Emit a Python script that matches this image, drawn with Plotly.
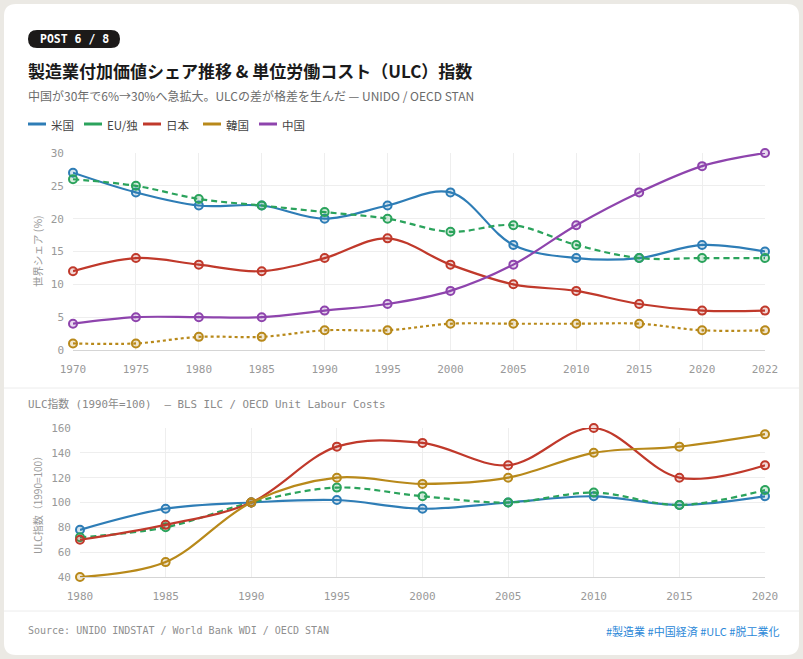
import plotly.graph_objects as go

W, H = 803, 659

# ---------------- data ----------------
years_top = ["1970", "1975", "1980", "1985", "1990", "1995", "2000", "2005", "2010", "2015", "2020", "2022"]
share_us = [27, 24, 22, 22, 20, 22, 24, 16, 14, 14, 16, 15]
share_eu = [26, 25, 23, 22, 21, 20, 18, 19, 16, 14, 14, 14]
share_jp = [12, 14, 13, 12, 14, 17, 13, 10, 9, 7, 6, 6]
share_kr = [1, 1, 2, 2, 3, 3, 4, 4, 4, 4, 3, 3]
share_cn = [4, 5, 5, 5, 6, 7, 9, 13, 19, 24, 28, 30]

years_bot = ["1980", "1985", "1990", "1995", "2000", "2005", "2010", "2015", "2020"]
ulc_us = [78, 95, 100, 102, 95, 100, 105, 98, 105]
ulc_eu = [72, 80, 100, 112, 105, 100, 108, 98, 110]
ulc_jp = [70, 82, 100, 145, 148, 130, 160, 120, 130]
ulc_kr = [40, 52, 100, 120, 115, 120, 140, 145, 155]

names = ["米国", "EU/独", "日本", "韓国", "中国"]
colors = ["#2e7db6", "#2ba35c", "#c0392b", "#b8891a", "#8e44ad"]
dash_top = ["solid", "6px,4px", "solid", "3px,3px", "solid"]
dash_bot = ["solid", "6px,4px", "solid", "solid"]

top_series = [share_us, share_eu, share_jp, share_kr, share_cn]
bot_series = [ulc_us, ulc_eu, ulc_jp, ulc_kr]

# ---------------- helpers ----------------
def px(x):
    return x / W

def py(y):
    return 1 - y / H

def rgba(hexc, a):
    h = hexc.lstrip("#")
    r, g, b = int(h[0:2], 16), int(h[2:4], 16), int(h[4:6], 16)
    return f"rgba({r},{g},{b},{a})"

def rounded_rect(x0, y0, x1, y1, r):
    rx, ry = r / W, r / H
    X0, X1 = px(x0), px(x1)
    Y0, Y1 = py(y0), py(y1)  # Y0 top (higher), Y1 bottom
    return (f"M {X0+rx},{Y0} L {X1-rx},{Y0} Q {X1},{Y0} {X1},{Y0-ry} "
            f"L {X1},{Y1+ry} Q {X1},{Y1} {X1-rx},{Y1} L {X0+rx},{Y1} "
            f"Q {X0},{Y1} {X0},{Y1+ry} L {X0},{Y0-ry} Q {X0},{Y0} {X0+rx},{Y0} Z")

MONO = "DejaVu Sans Mono, Noto Sans CJK JP, monospace"
CJK = "Noto Sans CJK JP, Noto Sans, sans-serif"

fig = go.Figure()

for name, col, dsh, ys in zip(names, colors, dash_top, top_series):
    fig.add_trace(go.Scatter(
        x=years_top, y=ys, name=name, mode="lines+markers",
        line=dict(color=col, width=2.2, shape="spline", smoothing=1.0, dash=dsh),
        marker=dict(size=8, color=rgba(col, 0.2), line=dict(color=col, width=2)),
        cliponaxis=False, xaxis="x", yaxis="y", showlegend=False,
    ))

for name, col, dsh, ys in zip(names[:4], colors[:4], dash_bot, bot_series):
    fig.add_trace(go.Scatter(
        x=years_bot, y=ys, name=name, mode="lines+markers",
        line=dict(color=col, width=2.2, shape="spline", smoothing=1.0, dash=dsh),
        marker=dict(size=8, color=rgba(col, 0.2), line=dict(color=col, width=2)),
        cliponaxis=False, xaxis="x2", yaxis="y2", showlegend=False,
    ))

axis_common = dict(
    showgrid=True, gridcolor="#eeeeee", gridwidth=1,
    zeroline=False, ticks="", fixedrange=True, automargin=False,
    tickfont=dict(family=MONO, size=11, color="#999999"),
)

fig.update_layout(
    width=W, height=H,
    margin=dict(l=0, r=0, t=0, b=0, pad=0, autoexpand=False),
    paper_bgcolor="#ebe9e4",
    plot_bgcolor="rgba(0,0,0,0)",
    showlegend=False,
    xaxis=dict(domain=[px(73), px(765)], type="category", range=[0, len(years_top) - 1],
               showline=True, linecolor="#d5d5d5", ticklabelstandoff=9, anchor="y", **axis_common),
    yaxis=dict(domain=[py(350), py(153)], range=[0, 30], dtick=5,
               showline=False, ticklabelstandoff=8, anchor="x", **axis_common),
    xaxis2=dict(domain=[px(80), px(765)], type="category", range=[0, len(years_bot) - 1],
                showline=True, linecolor="#d5d5d5", ticklabelstandoff=9, anchor="y2", **axis_common),
    yaxis2=dict(domain=[py(577), py(428)], range=[40, 160], dtick=20,
                showline=False, ticklabelstandoff=8, anchor="x2", **axis_common),
)

shapes = []
# card
shapes.append(dict(type="path", path=rounded_rect(4, 4, 799, 655, 12), xref="paper", yref="paper",
                   fillcolor="#ffffff", line=dict(width=0), layer="below"))
# badge
shapes.append(dict(type="path", path=rounded_rect(28, 30, 120, 48, 9), xref="paper", yref="paper",
                   fillcolor="#1c1a19", line=dict(width=0), layer="below"))
# dividers
shapes.append(dict(type="line", xref="paper", yref="paper", x0=px(4), x1=px(799), y0=py(388), y1=py(388),
                   line=dict(color="#ececec", width=1), layer="below"))
shapes.append(dict(type="line", xref="paper", yref="paper", x0=px(4), x1=px(799), y0=py(611), y1=py(611),
                   line=dict(color="#ececec", width=1), layer="below"))

annotations = []
def text(x, y, s, size, color, family, xanchor="left", weight=None, angle=0):
    f = dict(size=size, color=color, family=family)
    if weight:
        f["weight"] = weight
    annotations.append(dict(x=px(x), y=py(y), xref="paper", yref="paper", text=s, showarrow=False,
                            xanchor=xanchor, yanchor="middle", font=f, textangle=angle,
                            borderpad=0))

text(74, 39, "POST 6 / 8", 11.5, "#ffffff", "DejaVu Sans Mono, monospace", xanchor="center", weight=700)
text(27, 70, "製造業付加価値シェア推移 &amp; 単位労働コスト（ULC）指数", 17, "#1a1a1a", CJK, weight=700)
text(27, 95, "中国が30年で6%→30%へ急拡大。ULCの差が格差を生んだ — UNIDO / OECD STAN", 12, "#6b6b6b", CJK)

# legend (line samples + labels)
leg_x = [28, 84, 143, 203, 259]
for lx, name, col in zip(leg_x, names, colors):
    shapes.append(dict(type="line", xref="paper", yref="paper", x0=px(lx), x1=px(lx + 18),
                       y0=py(124), y1=py(124), line=dict(color=col, width=3)))
    text(lx + 22, 124.5, name, 11.5, "#444444", CJK)

text(37, 251, "世界シェア (%)", 10.5, "#999999", CJK, xanchor="center", angle=-90)
text(27, 404, "ULC指数 (1990年=100)  — BLS ILC / OECD Unit Labour Costs", 10.8, "#8a8a8a", MONO)
text(37, 503, "ULC指数（1990=100）", 10, "#999999", CJK, xanchor="center", angle=-90)

text(27, 630, "Source: UNIDO INDSTAT / World Bank WDI / OECD STAN", 10, "#8f8f8f", MONO)
text(780, 631, "#製造業 #中国経済 #ULC #脱工業化", 11, "#2b88d8", CJK, xanchor="right")

fig.update_layout(shapes=shapes, annotations=annotations)

fig.write_html("out.html")
